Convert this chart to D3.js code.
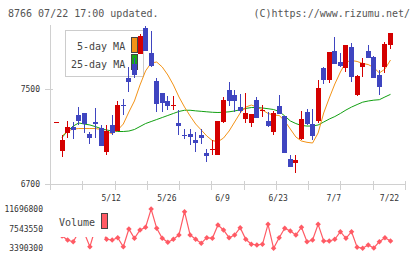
<!DOCTYPE html>
<html>
  <head>
    <meta http-equiv="Content-Type" content="text/html;charset=utf-8"/>
    <style type="text/css">

body {
  margin: 0;
  background: #fff;
}

svg {
  font-family: "DejaVu Sans Mono", monospace;
}

.frame line {
  stroke: #d0d0d0;
  stroke-width: 1px;
  shape-rendering: crispEdges;
}

.tick-label {
  font-size: 8px;
  fill: #333;
}

.head {
  font-size: 10px;
  fill: #555;
}

.legend text {
  font-size: 10px;
  fill: #444;
}

.candles rect, .candles line {
  shape-rendering: crispEdges;
}

.ma path {
  fill: none;
  stroke-width: 1px;
}

    </style>
  </head>
  <body>
    <svg></svg>

    <script type="text/javascript" src="https://cdn.jsdelivr.net/npm/d3@7"></script>

    <script type="text/javascript">

// trading days shown (2025-04-23 .. 2025-07-22)
var dates = ["4/23","4/24","4/25","4/28","4/30","5/1","5/2","5/7","5/8","5/9",
  "5/12","5/13","5/14","5/15","5/16","5/19","5/20","5/21","5/22","5/23",
  "5/26","5/27","5/28","5/29","5/30","6/2","6/3","6/4","6/5","6/6",
  "6/9","6/10","6/11","6/12","6/13","6/16","6/17","6/18","6/19","6/20",
  "6/23","6/24","6/25","6/26","6/27","6/30","7/1","7/2","7/3","7/4",
  "7/7","7/8","7/9","7/10","7/11","7/14","7/15","7/16","7/17","7/18","7/22"];

var tickDates = ["5/12","5/26","6/9","6/23","7/7","7/22"];

var opens = [7220,6980,7132,7183,7281,7298,7119,7222,7169,6972,
  7197,7146,7367,7593,7713,7797,8014,7803,7565,7466,
  7399,7360,7216,7112,7119,7068,7115,6961,6990,6944,
  7220,7492,7449,7346,7247,7211,7407,7320,7230,7135,
  7357,7273,6911,6880,7079,7306,7203,7228,7677,7578,
  7820,7727,7679,7854,7452,7685,7820,7769,7620,7685,7873];

var highs = [7220,7113,7230,7220,7346,7298,7140,7337,7197,7197,
  7281,7401,7416,7685,7760,7966,8030,7988,7593,7466,
  7438,7441,7321,7166,7166,7138,7166,6997,7068,7230,
  7435,7556,7492,7458,7469,7290,7430,7365,7309,7315,
  7449,7273,6944,6944,7315,7329,7329,7573,7685,7812,
  7938,7803,7868,7890,7615,7761,7873,7778,7657,7896,7972];

var lows = [7220,6930,7085,7076,7197,7127,7037,7085,7023,6944,
  7113,7146,7281,7475,7593,7797,7817,7685,7306,7306,
  7321,7320,7110,7081,7031,6969,7040,6885,6947,6944,
  7211,7357,7309,7300,7211,7183,7253,7262,7183,7113,
  7287,6964,6841,6795,7071,7200,7068,7216,7545,7553,
  7713,7685,7643,7559,7441,7601,7761,7593,7452,7637,7839];

var closes = [7221,7070,7180,7155,7233,7203,7090,7205,7023,7146,
  7132,7365,7362,7559,7620,7946,7817,7691,7376,7385,
  7354,7365,7186,7105,7096,7045,7087,6936,6995,7230,
  7407,7401,7401,7315,7300,7290,7253,7325,7191,7300,
  7287,6964,6846,6902,7247,7203,7104,7508,7578,7812,
  7713,7694,7868,7601,7609,7719,7761,7593,7517,7881,7972];

// moving averages as drawn (null = not drawn)
var ma5 = [null,7104,7146,7163,7167,7167,7167,7167,7159,7138,
  7125,7155,7205,7306,7399,7534,7652,7719,7727,7685,
  7618,7534,7433,7348,7273,7205,7155,7104,7066,7056,
  7087,7146,7222,7298,7348,7365,7348,7323,7294,7281,
  7277,7231,7163,7096,7062,7051,7045,7130,7298,7424,
  7542,7643,7727,7740,7732,7715,7706,7681,7635,7668,7744];

var ma25 = [null,7092,7146,7188,7214,7205,7197,7183,7167,7155,
  7146,7142,7142,7146,7159,7184,7209,7226,7243,7260,
  7277,7294,7311,7321,7321,7316,7312,7308,7304,7302,
  7304,7308,7315,7325,7336,7344,7344,7340,7334,7327,
  7311,7273,7231,7209,7193,7188,7188,7197,7222,7247,
  7268,7294,7323,7348,7369,7389,7399,7406,7410,7433,7455];

var volumes = [null,5990000,5144600,4785300,6835500,6624100,3728500,7680900,7046800,5292500,
  5144600,5630700,3728500,7469500,5503900,7258200,7828900,11696800,7617500,5503900,
  4658500,5292500,6201400,11126100,6201400,5292500,4447100,5630700,5503900,8315000,
  7258200,5630700,6201400,7744300,5292500,4235700,4087800,4235700,8462900,3390300,
  5630700,7617500,7046800,6201400,7828900,4785300,5144600,8462900,4933200,4933200,
  5292500,6898900,5503900,6898900,3601700,3420000,4087800,3450000,4785300,5630700,4933200];

var priceTicks = [6700, 7500];
var volumeTicks = [3390300, 7543550, 11696800];

var W = 420, H = 259;

var svg = d3.select("svg")
    .attr("width", W)
    .attr("height", H);

svg.append("rect").attr("width", W).attr("height", H).attr("fill", "#fff");

var x = d3.scalePoint()
    .domain(dates)
    .range([56.5, 390.5]);

var y = d3.scaleLinear()
    .domain([6700, 7500])
    .range([184, 89]);

var yv = d3.scaleLinear()
    .domain([3390300, 11696800])
    .range([248.3, 209]);

// equally spaced ticks under the price panel
var grid = d3.scaleLinear().domain([0, 11]).range([50, 405]);

// header
svg.append("text").attr("class", "head")
    .attr("x", 8).attr("y", 17)
    .text("8766 07/22 17:00 updated.");
svg.append("text").attr("class", "head")
    .attr("x", 410).attr("y", 17)
    .attr("text-anchor", "end")
    .text("(C)https://www.rizumu.net/");

// frame
var frame = svg.append("g").attr("class", "frame");
frame.append("line")
    .attr("x1", 50.5).attr("x2", 50.5)
    .attr("y1", 25).attr("y2", 190);
frame.append("line")
    .attr("x1", 45).attr("x2", 405)
    .attr("y1", 184.5).attr("y2", 184.5);
frame.selectAll("line.gx")
    .data(d3.range(1, 12))
  .enter().append("line")
    .attr("class", "gx")
    .attr("x1", d => Math.round(grid(d)) + 0.5)
    .attr("x2", d => Math.round(grid(d)) + 0.5)
    .attr("y1", 181).attr("y2", 190);
frame.selectAll("line.gy")
    .data(priceTicks)
  .enter().append("line")
    .attr("class", "gy")
    .attr("x1", 45).attr("x2", 53)
    .attr("y1", d => Math.round(y(d)) + 0.5)
    .attr("y2", d => Math.round(y(d)) + 0.5);

svg.selectAll("text.py")
    .data(priceTicks)
  .enter().append("text")
    .attr("class", "tick-label py")
    .attr("x", 40).attr("y", d => y(d) + 3)
    .attr("text-anchor", "end")
    .text(d => d);

svg.selectAll("text.dx")
    .data(tickDates)
  .enter().append("text")
    .attr("class", "tick-label dx")
    .attr("x", d => x(d) - 1).attr("y", 201)
    .attr("text-anchor", "middle")
    .text(d => d);

svg.selectAll("text.vy")
    .data(volumeTicks)
  .enter().append("text")
    .attr("class", "tick-label vy")
    .attr("x", 43).attr("y", d => yv(d) + 3)
    .attr("text-anchor", "end")
    .text(d => d);

// price legend (drawn under the candles)
var lg = svg.append("g").attr("class", "legend");
lg.append("rect")
    .attr("x", 65.5).attr("y", 30.5)
    .attr("width", 78).attr("height", 46)
    .attr("fill", "#fff").attr("stroke", "#ccc");
lg.append("text").attr("x", 77).attr("y", 50).text("5-day MA");
lg.append("text").attr("x", 71).attr("y", 68).text("25-day MA");
lg.append("rect")
    .attr("x", 131.5).attr("y", 37.5).attr("width", 6).attr("height", 15)
    .attr("fill", "#f39317").attr("stroke", "#444");
lg.append("rect")
    .attr("x", 131.5).attr("y", 54.5).attr("width", 6).attr("height", 15)
    .attr("fill", "#18a818").attr("stroke", "#444");

// moving averages
var ma = svg.append("g").attr("class", "ma");
var maLine = d3.line()
    .defined(d => d[1] != null)
    .x(d => x(d[0]))
    .y(d => y(d[1]));
ma.append("path")
    .attr("d", maLine(dates.map((d, i) => [d, ma25[i]])))
    .attr("stroke", "#12a012");
ma.append("path")
    .attr("d", maLine(dates.map((d, i) => [d, ma5[i]])))
    .attr("stroke", "#f39317");

// candles
var candles = dates.map((d, i) => ({date: d, o: opens[i], h: highs[i], l: lows[i], c: closes[i]}));
var cg = svg.append("g").attr("class", "candles")
  .selectAll("g")
    .data(candles)
  .enter().append("g");

var up = "#d40000", down = "#3f45c0";

cg.append("line")
    .attr("x1", d => Math.floor(x(d.date)) + 0.5)
    .attr("x2", d => Math.floor(x(d.date)) + 0.5)
    .attr("y1", d => y(d.h))
    .attr("y2", d => y(d.l))
    .attr("stroke", d => d.c >= d.o ? up : down);

cg.append("rect")
    .attr("x", d => Math.floor(x(d.date)) - 2)
    .attr("width", 5)
    .attr("y", d => y(Math.max(d.o, d.c)))
    .attr("height", d => Math.max(1, Math.abs(y(d.o) - y(d.c))))
    .attr("fill", d => d.c >= d.o ? up : down);

// volume
var vcol = "#ff5a64";
var vpts = volumes.map((v, i) => [dates[i], v]).filter(d => d[1] != null);

svg.append("path")
    .attr("d", d3.line().x(d => x(d[0])).y(d => yv(d[1]))(vpts))
    .attr("fill", "none")
    .attr("stroke", vcol)
    .attr("stroke-width", 1.2);

svg.append("g").selectAll("path")
    .data(vpts)
  .enter().append("path")
    .attr("d", d3.symbol(d3.symbolSquare, 15))
    .attr("transform", d => "translate(" + x(d[0]) + "," + yv(d[1]) + ") rotate(45)")
    .attr("fill", vcol);

// volume legend box covers the first points
var vl = svg.append("g").attr("class", "legend");
vl.append("rect")
    .attr("x", 57).attr("y", 208)
    .attr("width", 48).attr("height", 29)
    .attr("fill", "#fff");
vl.append("text").attr("x", 59).attr("y", 226).text("Volume");
vl.append("rect")
    .attr("x", 101.5).attr("y", 213.5).attr("width", 6).attr("height", 15)
    .attr("fill", vcol).attr("stroke", "#444");

    </script>
  </body>
</html>
